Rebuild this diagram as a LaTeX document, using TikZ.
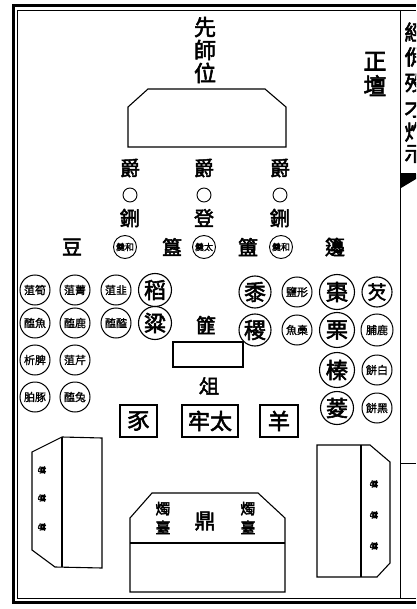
\documentclass[tikz,border=0pt]{standalone}
\usepackage{fontspec}
\newfontfamily\cjk{Noto Sans CJK TC}
\newfontfamily\cjkb{Noto Sans CJK TC}[FakeBold=2.5]
\newfontfamily\cjkm{Noto Sans CJK TC}[FakeBold=1.2]
\begin{document}
\begin{tikzpicture}[x=1pt,y=-1pt,
  every node/.style={inner sep=0pt},
  big/.style={font=\cjkb\fontsize{22}{23}\selectfont, align=center},
  mid/.style={font=\cjkb\fontsize{20}{20}\selectfont},
  pair/.style={circle,draw,line width=1pt,minimum size=30pt,font=\cjkm\fontsize{11}{11}\selectfont},
  single/.style={circle,draw,line width=1.1pt,minimum size=33pt,font=\cjkb\fontsize{22}{22}\selectfont},
  soup/.style={circle,draw,line width=0.9pt,minimum size=23pt,font=\cjkm\fontsize{9}{9}\selectfont},
  ring/.style={circle,draw,line width=0.9pt,minimum size=14pt},
  boxed/.style={draw,line width=1.1pt,minimum height=32pt,font=\cjkb\fontsize{22}{22}\selectfont},
  tbl/.style={draw,line width=1.1pt},
  tiny/.style={font=\cjkb\fontsize{8.5}{8.5}\selectfont, rotate=-90},
  edge/.style={font=\cjkb\fontsize{21}{21}\selectfont}
]
\useasboundingbox (0,0) rectangle (416,609);
\fill[white] (0,0) rectangle (416,609);
% frame
\draw[line width=3pt] (13,6) -- (416,6);
\draw[line width=0.6pt] (17,10) -- (416,10);
\draw[line width=3pt] (13,602) -- (416,602);
\draw[line width=0.6pt] (17,598) -- (416,598);
\draw[line width=3pt] (13,4.5) -- (13,603.5);
\draw[line width=0.6pt] (17,10) -- (17,598);
\draw[line width=0.8pt] (400,10) -- (400,598);
\draw[line width=0.8pt] (400,463) -- (416,463);
\draw[line width=0.6pt] (400,173) -- (416,173);
\fill (401,174) -- (416,174) -- (416,179) -- (401,188) -- cycle;
\begin{scope}
\clip (401,10) rectangle (416,172);
\node[edge] (e1) at (415,32) {經};
\node[edge] (e2) at (415,57) {佾};
\node[edge] (e3) at (415,83) {殁};
\node[edge] (e4) at (415,108) {才};
\node[edge] (e5) at (415,132) {炸};
\node[edge] (e6) at (415,154) {示};
\end{scope}
% titles
\node[big] (xsw) at (205,50) {先\\師\\位};
\node[big,font=\cjkb\fontsize{23}{25}\selectfont] (zt) at (375,74) {正\\壇};
% altar
\draw[tbl] (148,89) -- (265,89) -- (286,107) -- (286,147) -- (128,147) -- (128,107) -- cycle;
% jue row
\node[mid] (j1) at (130,168) {爵};
\node[mid] (j2) at (204,168) {爵};
\node[mid] (j3) at (280,168) {爵};
\node[ring] (r1) at (130,195) {};
\node[ring] (r2) at (204,195) {};
\node[ring] (r3) at (280,195) {};
\node[mid] (x1) at (130,218) {鉶};
\node[mid] (x2) at (204,218) {登};
\node[mid] (x3) at (280,218) {鉶};
% vessel row
\node[mid] (dou) at (72,247) {豆};
\node[soup] (s1) at (125,247) {羹和};
\node[mid] (gui) at (172,247) {簋};
\node[soup] (s2) at (204,247) {羹太};
\node[mid] (fu) at (248,247) {簠};
\node[soup] (s3) at (281,247) {羹和};
\node[mid] (bian) at (335,247) {籩};
% left grid
\node[pair] (l11) at (35,290) {菹筍};
\node[pair] (l12) at (75,290) {菹菁};
\node[pair] (l13) at (116,290) {菹韭};
\node[single] (l14) at (155,290) {稻};
\node[pair] (l21) at (35,323) {醢魚};
\node[pair] (l22) at (75,323) {醢鹿};
\node[pair] (l23) at (116,323) {醢醓};
\node[single] (l24) at (155,323) {粱};
\node[pair] (l31) at (35,360) {析脾};
\node[pair] (l32) at (75,360) {菹芹};
\node[pair] (l41) at (35,397) {胉豚};
\node[pair] (l42) at (75,397) {醢兔};
% right grid
\node[single,minimum size=32pt] (r11) at (255,292) {黍};
\node[pair] (r12) at (297,292) {鹽形};
\node[single,minimum size=35pt] (r13) at (337,292) {棗};
\node[single,minimum size=30pt,font=\cjkb\fontsize{19}{19}\selectfont] (r14) at (377,292) {芡};
\node[single,minimum size=32pt] (r21) at (255,330) {稷};
\node[pair] (r22) at (297,330) {魚槀};
\node[single,minimum size=35pt] (r23) at (337,330) {栗};
\node[pair,minimum size=32pt] (r24) at (377,330) {脯鹿};
\node[single,minimum size=35pt] (r33) at (337,370) {榛};
\node[pair] (r34) at (377,370) {餅白};
\node[single,minimum size=33pt] (r43) at (337,408) {菱};
\node[pair] (r44) at (377,408) {餅黑};
% centre
\node[mid] (fei) at (206,325) {篚};
\node[draw,line width=1.1pt,minimum width=70pt,minimum height=25pt] (tray) at (208,354.5) {};
\node[mid] (zu) at (209,386) {俎};
\node[boxed,minimum width=37pt] (shi) at (138.5,421) {豕};
\node[boxed,minimum width=56pt] (tl) at (210,421) {牢太};
\node[boxed,minimum width=38pt] (yang) at (279,421) {羊};
% left zun table
\draw[tbl] (32,452) -- (62,437) -- (102,438) -- (102,568) -- (55,567) -- (32,550) -- cycle;
\draw[tbl] (62,437) -- (62,567);
\node[tiny] (lz1) at (42,470) {尊};
\node[tiny] (lz2) at (42,498) {尊};
\node[tiny] (lz3) at (42,527) {尊};
% right zun table
\draw[tbl] (317,445) -- (370,445) -- (390,462) -- (390,563) -- (377,577) -- (317,577) -- cycle;
\draw[tbl] (361,445) -- (361,577);
\node[tiny] (rz1) at (374,484) {尊};
\node[tiny] (rz2) at (374,515) {尊};
\node[tiny] (rz3) at (374,546) {尊};
% ding table
\draw[tbl] (152,493) -- (258,493) -- (285,518) -- (285,592) -- (130,592) -- (130,518) -- cycle;
\draw[tbl] (130,543) -- (285,543);
\node[big,font=\cjkb\fontsize{15}{19}\selectfont] (zh1) at (163,518) {燭\\臺};
\node[mid,font=\cjkb\fontsize{21}{21}\selectfont] (ding) at (205,521) {鼎};
\node[big,font=\cjkb\fontsize{15}{19}\selectfont] (zh2) at (248,518) {燭\\臺};
\end{tikzpicture}
\end{document}
